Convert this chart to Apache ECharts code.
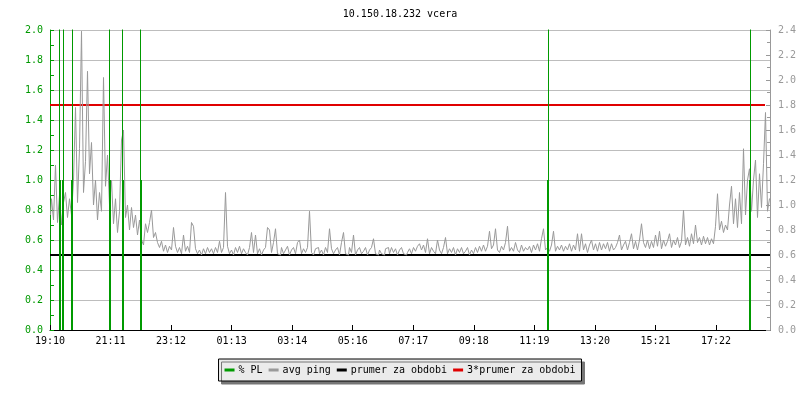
<!DOCTYPE html>
<html><head><meta charset="utf-8">
<script src="https://cdn.jsdelivr.net/npm/echarts@6/dist/echarts.min.js"></script>
<style>html,body{margin:0;padding:0;background:#fff}#c{width:800px;height:400px}</style>
</head><body><div id="c"></div>
<script>
const titleText = '10.150.18.232 vcera';
const tickLabels = ['19:10','21:11','23:12','01:13','03:14','05:16','07:17','09:18','11:19','13:20','15:21','17:22'];
const legendNames = ['% PL','avg ping','prumer za obdobi','3*prumer za obdobi'];
const spanMinutes = 1440;
const labelStepMinutes = 121.09;
const sampleStepMinutes = 4;
const sampleOffsetMinutes = 1;
// avg ping (right axis), one value every 4 minutes from 19:10
const avgPing = [
0.92,1.05,0.88,1.32,0.86,1.08,0.84,1.02,1.1,0.9,1.05,0.92,1.2,1.78,1.02,1.45,2.39,1.1,1.35,2.07,
1.25,1.5,1.0,1.2,0.88,1.1,0.95,2.02,1.15,1.4,1.0,1.2,0.85,1.05,0.78,0.95,1.52,1.6,0.9,1.0,
0.8,0.98,0.82,0.92,0.76,0.88,0.72,0.68,0.85,0.78,0.86,0.96,0.74,0.78,0.7,
0.66,0.71,0.63,0.68,0.62,0.67,0.64,0.82,
0.67,0.62,0.66,0.61,0.76,0.63,0.67,0.62,
0.86,0.83,0.65,0.61,0.64,0.6,0.65,0.61,0.66,0.62,
0.65,0.61,0.66,0.62,0.71,0.62,0.66,1.10,0.67,0.61,
0.64,0.6,0.66,0.62,0.67,0.61,0.65,0.62,0.6,0.66,
0.78,0.62,0.76,0.61,0.65,0.6,0.64,0.66,0.82,0.8,
0.62,0.7,0.81,0.61,0.6,0.66,0.61,0.64,0.67,0.6,
0.64,0.66,0.61,0.7,0.72,0.61,0.65,0.62,0.66,0.95,
0.62,0.6,0.65,0.66,0.61,0.64,0.6,0.66,0.62,0.81,
0.65,0.61,0.64,0.66,0.6,0.7,0.78,0.61,0.6,0.66,
0.62,0.76,0.6,0.64,0.66,0.61,0.63,0.66,0.6,0.64,
0.66,0.73,0.61,0.6,0.64,0.61,0.6,0.65,0.66,0.61,
0.66,0.62,0.65,0.6,0.64,0.66,0.61,0.6,0.62,0.65,
0.61,0.66,0.63,0.67,0.69,0.64,0.68,0.62,0.73,0.61,
0.66,0.63,0.61,0.72,0.64,0.61,0.66,0.74,0.61,0.65,
0.62,0.66,0.6,0.65,0.62,0.66,0.61,0.63,0.66,0.6,
0.64,0.61,0.66,0.62,0.67,0.63,0.68,0.63,0.67,0.79,
0.65,0.68,0.81,0.64,0.62,0.67,0.64,0.7,0.83,0.63,
0.66,0.63,0.7,0.64,0.62,0.68,0.63,0.66,0.64,0.67,
0.62,0.68,0.64,0.69,0.63,0.73,0.81,0.64,0.66,0.63,
0.68,0.79,0.63,0.67,0.64,0.68,0.63,0.67,0.64,0.69,
0.63,0.68,0.64,0.77,0.63,0.77,0.64,0.69,0.62,0.68,
0.72,0.64,0.69,0.63,0.7,0.64,0.69,0.65,0.7,0.63,
0.69,0.64,0.66,0.7,0.76,0.64,0.68,0.71,0.64,0.7,
0.77,0.65,0.71,0.64,0.72,0.85,0.7,0.66,0.72,0.65,
0.71,0.66,0.76,0.67,0.79,0.65,0.72,0.67,0.71,0.77,
0.66,0.72,0.68,0.74,0.66,0.71,0.96,0.68,0.74,0.67,
0.77,0.69,0.84,0.7,0.74,0.68,0.75,0.69,0.74,0.68,
0.73,0.69,0.83,
1.09,0.8,0.87,0.78,0.84,0.8,1.0,1.15,0.85,1.05,0.82,1.1,0.85,1.45,0.92,1.2,1.29,0.95,1.2,1.36,
0.9,1.25,0.98,1.33,1.74,0.95,1.05
];
// packet loss events (left axis): minute offset and % value
const plMinutes = [19,21,25,27,43,45,119,121,145,147,181,183,995,997,1399,1401];
const plValues  = [4,1,1,4,1,4,4,1,4,1,4,1,1,4,1,4];
const periodAvg = 0.6;
const periodAvg3 = 1.8;
const periodAvg3End = 1430;

const FONT = 'DejaVu Sans Mono';
const GREEN = '#009a00';
const GRAY = '#999999';

const pingData = avgPing.map((v, i) => [i * sampleStepMinutes + sampleOffsetMinutes, v]);
// each loss event is a vertical stroke from 0 up to its value; strokes are separated by gaps
const plData = [];
plMinutes.forEach((m, i) => { plData.push([m, 0], [m, plValues[i]], [m, '-']); });

const chart = echarts.init(document.getElementById('c'), null, {renderer: 'canvas'});
chart.setOption({
  animation: false,
  backgroundColor: '#ffffff',
  title: {
    text: titleText, left: 'center', top: 9, padding: 0,
    textStyle: {fontFamily: FONT, fontSize: 10, fontWeight: 'normal', color: '#000'}
  },
  legend: {
    data: legendNames, left: 'center', top: 359, orient: 'horizontal',
    icon: 'rect', itemWidth: 10, itemHeight: 3, itemGap: 6,
    padding: [6, 6], backgroundColor: '#ebebeb', borderColor: '#000', borderWidth: 1,
    shadowColor: '#777', shadowBlur: 0, shadowOffsetX: 3, shadowOffsetY: 3,
    textStyle: {fontFamily: FONT, fontSize: 10, color: '#000', padding: [0, 0, 0, -1]},
    selectedMode: false
  },
  grid: {left: 50, right: 30, top: 30, bottom: 70},
  xAxis: {
    type: 'value', min: 0, max: spanMinutes, interval: labelStepMinutes,
    axisLine: {show: true, lineStyle: {color: '#000', width: 1}},
    axisTick: {show: true, inside: true, length: 5, lineStyle: {color: '#000'}},
    splitLine: {show: false},
    axisLabel: {
      margin: 6, fontFamily: FONT, fontSize: 10, color: '#000', showMaxLabel: false,
      formatter: v => { const i = Math.round(v / labelStepMinutes); return tickLabels[i] || ''; }
    }
  },
  yAxis: [
    {
      type: 'value', min: 0, max: 2, interval: 0.2, position: 'left',
      axisLine: {show: true, lineStyle: {color: GREEN, width: 1}},
      axisTick: {show: true, inside: true, length: 4, lineStyle: {color: GREEN}},
      minorTick: {show: true, splitNumber: 2, length: 4, lineStyle: {color: GREEN}},
      splitLine: {show: true, lineStyle: {color: '#bdbdbd', width: 1}},
      axisLabel: {margin: 7, fontFamily: FONT, fontSize: 10, color: GREEN, formatter: v => v.toFixed(1)}
    },
    {
      type: 'value', min: 0, max: 2.4, interval: 0.2, position: 'right',
      axisLine: {show: true, lineStyle: {color: GRAY, width: 1}},
      axisTick: {show: true, inside: true, length: 4, lineStyle: {color: GRAY}},
      minorTick: {show: true, splitNumber: 2, length: 3, lineStyle: {color: GRAY}},
      splitLine: {show: false},
      axisLabel: {margin: 8, fontFamily: FONT, fontSize: 10, color: GRAY, formatter: v => v.toFixed(1)}
    }
  ],
  series: [
    {
      name: '% PL', type: 'line', yAxisIndex: 0, symbol: 'none', z: 5, clip: true,
      connectNulls: false,
      data: plData, lineStyle: {color: GREEN, width: 1}, itemStyle: {color: GREEN}
    },
    {
      name: 'avg ping', type: 'line', yAxisIndex: 1, symbol: 'none', z: 4, clip: true,
      step: 'middle',
      data: pingData, lineStyle: {color: GRAY, width: 1}, itemStyle: {color: GRAY}
    },
    {
      name: 'prumer za obdobi', type: 'line', yAxisIndex: 1, symbol: 'none', z: 2,
      data: [[0, periodAvg], [spanMinutes, periodAvg]],
      lineStyle: {color: '#000', width: 2}, itemStyle: {color: '#000'}
    },
    {
      name: '3*prumer za obdobi', type: 'line', yAxisIndex: 1, symbol: 'none', z: 2,
      data: [[0, periodAvg3], [periodAvg3End, periodAvg3]],
      lineStyle: {color: '#e00000', width: 2}, itemStyle: {color: '#e00000'}
    }
  ]
});
</script>
</body></html>
